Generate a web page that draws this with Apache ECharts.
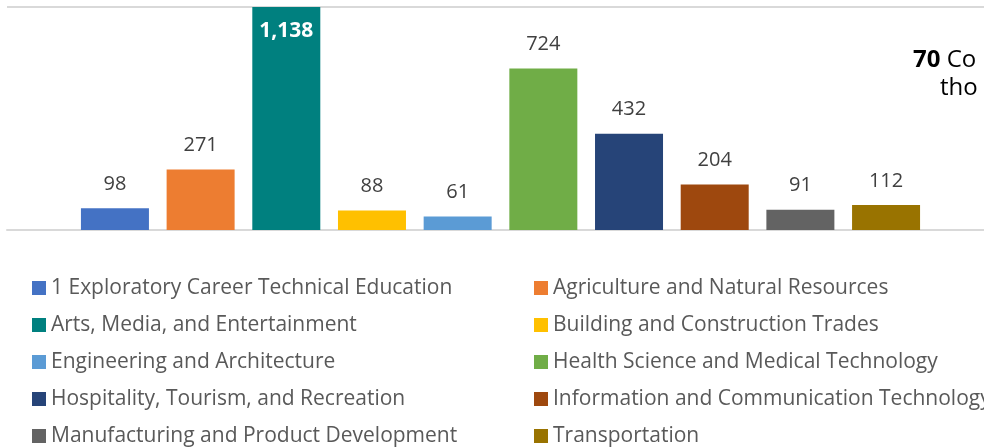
<!DOCTYPE html>
<html>
<head>
<meta charset="utf-8">
<script src="https://cdn.jsdelivr.net/npm/echarts@6/dist/echarts.min.js"></script>
<style>html,body{margin:0;padding:0;background:#fff}#c{width:984px;height:448px}</style>
</head>
<body>
<div id="c"></div>
<script>
const seriesNames = [
  "1 Exploratory Career Technical Education",
  "Agriculture and Natural Resources",
  "Arts, Media, and Entertainment",
  "Building and Construction Trades",
  "Engineering and Architecture",
  "Health Science and Medical Technology",
  "Hospitality, Tourism, and Recreation",
  "Information and Communication Technology",
  "Manufacturing and Product Development",
  "Transportation"
];
const seriesValues = [98, 271, 1138, 88, 61, 724, 432, 204, 91, 112];
const seriesColors = ["#4472C4", "#ED7D31", "#00807F", "#FFC000", "#5B9BD5", "#70AD47", "#264478", "#9E480E", "#636363", "#997300"];
const categories = [""];
const axisMax = 1000;
const noteBold = "70";
const noteLine1 = " Co";
const noteLine2 = "tho";

const FONT = "'Open Sans', 'Noto Sans', sans-serif";
const chart = echarts.init(document.getElementById('c'), null, {renderer: 'canvas'});
const series = seriesNames.map((name, i) => {
  const over = seriesValues[i] > axisMax;
  return {
    name: name,
    type: 'bar',
    xAxisIndex: 1, yAxisIndex: 1,
    data: [seriesValues[i]],
    barWidth: 68,
    barGap: '26%',
    itemStyle: {color: seriesColors[i]},
    label: {
      show: true,
      position: over ? 'insideTop' : 'top',
      distance: over ? 14 : 14,
      color: over ? '#ffffff' : '#404040',
      fontWeight: over ? 'bold' : 'normal',
      fontSize: over ? 21 : 20,
      fontFamily: FONT,
      formatter: p => p.value.toLocaleString('en-US')
    }
  };
});
chart.setOption({
  animation: false,
  backgroundColor: '#ffffff',
  grid: [
    {left: 7, top: 7, right: 0, height: 223, containLabel: false},
    {left: 17, top: 7, right: 0, height: 223, containLabel: false}
  ],
  xAxis: [
    {gridIndex: 0, type: 'category', data: categories,
      axisLine: {show: true, lineStyle: {color: '#d9d9d9', width: 2}},
      axisTick: {show: false}, axisLabel: {show: false}},
    {gridIndex: 1, type: 'category', data: categories,
      axisLine: {show: false}, axisTick: {show: false}, axisLabel: {show: false}}
  ],
  yAxis: [
    {gridIndex: 0, type: 'value', min: 0, max: axisMax, interval: axisMax,
      axisLine: {show: false}, axisTick: {show: false}, axisLabel: {show: false},
      splitLine: {lineStyle: {color: '#d9d9d9', width: 2}}},
    {gridIndex: 1, type: 'value', min: 0, max: axisMax, interval: axisMax,
      axisLine: {show: false}, axisTick: {show: false}, axisLabel: {show: false},
      splitLine: {show: false}}
  ],
  legend: {
    left: 32, top: 276, width: 1000, padding: 0,
    orient: 'horizontal',
    itemWidth: 14, itemHeight: 14, itemGap: 13,
    icon: 'rect',
    textStyle: {color: '#595959', fontSize: 21, fontFamily: FONT, width: 470, lineHeight: 24},
    data: seriesNames
  },
  graphic: [
    {type: 'text', left: 913, top: 48, style: {
      rich: {b: {fontWeight: 'bold', fontSize: 24, fontFamily: FONT, fill: '#000'}, n: {fontSize: 24, fontFamily: FONT, fill: '#000'}},
      text: '{b|' + noteBold + '}{n|' + noteLine1 + '}'
    }},
    {type: 'text', left: 940, top: 76, style: {text: noteLine2, fontSize: 24, fontFamily: FONT, fill: '#000'}}
  ],
  series: series
});
</script>
</body>
</html>
